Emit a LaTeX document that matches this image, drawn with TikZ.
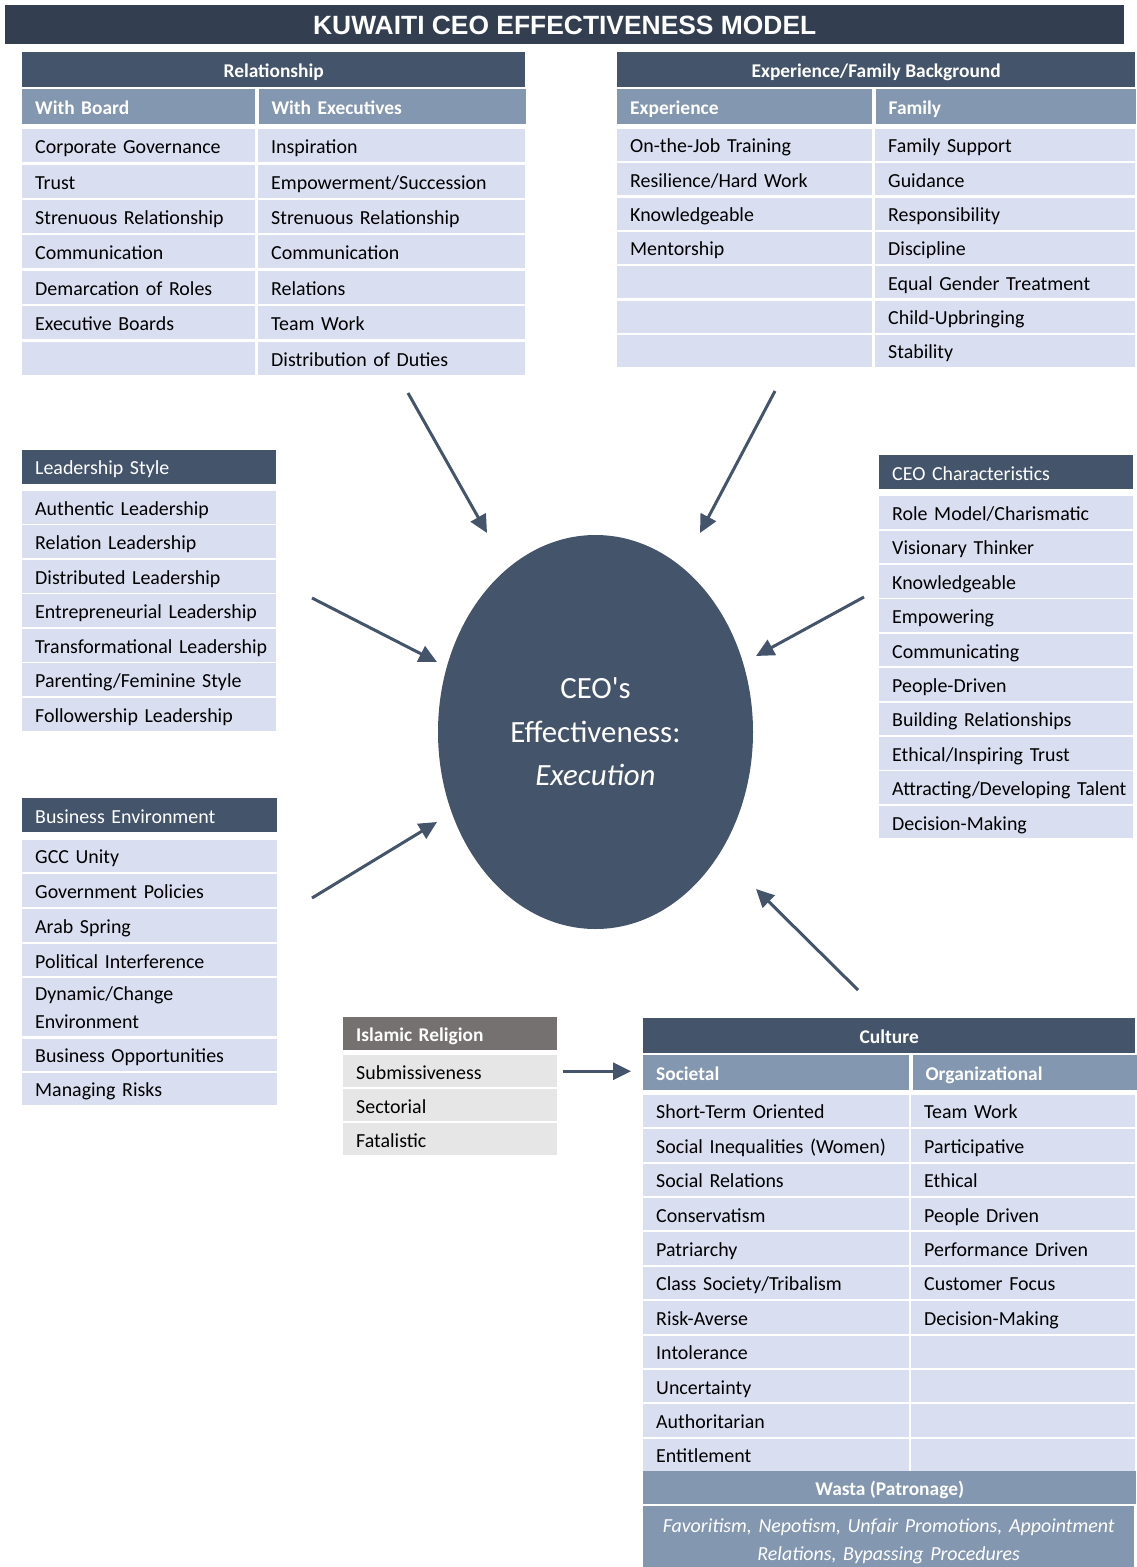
\documentclass[tikz,border=0pt]{standalone}
\usepackage{fontspec}
\setmainfont{Carlito}
\newfontfamily\titlefont{Liberation Sans}
\usetikzlibrary{arrows.meta, positioning, shapes.geometric}
\definecolor{titleblue}{HTML}{333F50}
\definecolor{ceodark}{HTML}{44546A}
\definecolor{ceomid}{HTML}{8497B0}
\definecolor{ceolight}{HTML}{D9DFF0}
\definecolor{islamgrey}{HTML}{767171}
\definecolor{islamlight}{HTML}{E7E6E6}
\tikzset{%
    cellbase/.style={%
        rectangle,
        anchor=north west,
        inner sep=0pt,
    },
    colw/.style={minimum width=#1, text width=#1},
    pad/.style={execute at begin node={\leftskip=13bp\relax}},
    oneline/.style={text height=19bp, text depth=3bp},
    titlebar/.style={%
        cellbase,
        text height=19bp, text depth=0bp,
        fill=titleblue,
        text=white,
        font=\titlefont\bfseries\fontsize{26.5}{30}\selectfont,
        minimum width=1119bp,
        minimum height=39bp,
    },
    headbar/.style={%
        cellbase, oneline,
        fill=ceodark,
        text=white,
        font=\bfseries\fontsize{19.5}{23}\selectfont,
        minimum height=35bp,
    },
    sidehead/.style={%
        cellbase, oneline, pad,
        fill=ceodark,
        text=white,
        font=\fontsize{20}{24}\selectfont,
        align=left,
        colw=254bp,
        minimum height=34bp,
    },
    subbar/.style={%
        cellbase, oneline, pad,
        fill=ceomid,
        text=white,
        font=\bfseries\fontsize{19.5}{23}\selectfont,
        align=left,
        minimum height=35bp,
    },
    cell/.style={%
        cellbase, oneline, pad,
        fill=ceolight,
        font=\fontsize{20}{24}\selectfont,
        align=left,
        minimum height=32.5bp,
    },
    islamhead/.style={%
        subbar,
        fill=islamgrey,
        colw=214bp,
        minimum height=33bp,
    },
    islamcell/.style={%
        cell,
        fill=islamlight,
        colw=214bp,
        minimum height=32bp,
    },
    ceo/.style={%
        ellipse,
        fill=ceodark,
        inner sep=0pt,
        minimum width=315bp,
        minimum height=394bp,
        text=white,
        align=center,
        font=\fontsize{31}{43.5}\selectfont,
    },
    edge/.style={%
        draw=ceodark,
        line width=3bp,
        -{Triangle[length=18bp, width=17bp]},
    },
}

\begin{document}
\begin{tikzpicture}[x=1bp, y=-1bp]
	\useasboundingbox[fill=white] (0,0) rectangle (1136,1567);

	\node [titlebar] (title) at (5,5) {KUWAITI CEO EFFECTIVENESS MODEL};

	% relationship
	\node [headbar, minimum width=503bp] (relHead) at (22,51.5) {Relationship};
	\node [subbar, colw=233bp] (relBoard) at (22,88.5) {With Board};
	\node [subbar, colw=267bp, right=3bp of relBoard] (relExec) {With Executives};
	\foreach \txt [count=\i] in {Corporate Governance, Trust, Strenuous Relationship,
		Communication, Demarcation of Roles, Executive Boards, {}}
		\node [cell, colw=233bp, minimum height=33bp] (relB\i) at (22,{129+(\i-1)*35.4}) {\txt};
	\foreach \txt [count=\i] in {Inspiration, Empowerment/Succession, Strenuous Relationship,
		Communication, Relations, Team Work, Distribution of Duties}
		\node [cell, colw=267bp, minimum height=33bp] (relE\i) at (258,{129+(\i-1)*35.4}) {\txt};

	% experience / family
	\node [headbar, minimum width=518bp] (expHead) at (617,51.5) {Experience/Family Background};
	\node [subbar, colw=255bp] (expExp) at (617,88.5) {Experience};
	\node [subbar, colw=260bp, right=3bp of expExp] (expFam) {Family};
	\foreach \txt [count=\i] in {On-the-Job Training, Resilience/Hard Work, Knowledgeable,
		Mentorship, {}, {}, {}}
		\node [cell, colw=255bp, minimum height=32bp] (expE\i) at (617,{128.7+(\i-1)*34.33}) {\txt};
	\foreach \txt [count=\i] in {Family Support, Guidance, Responsibility, Discipline,
		Equal Gender Treatment, Child-Upbringing, Stability}
		\node [cell, colw=260bp, minimum height=32bp] (expF\i) at (875,{128.7+(\i-1)*34.33}) {\txt};

	% leadership style
	\node [sidehead] (leadHead) at (22,449.5) {Leadership Style};
	\foreach \txt [count=\i] in {Authentic Leadership, Relation Leadership, Distributed Leadership,
		Entrepreneurial Leadership, Transformational Leadership, Parenting/Feminine Style,
		Followership Leadership}
		\node [cell, colw=254bp, minimum height=33bp] (lead\i) at (22,{490.5+(\i-1)*34.5}) {\txt};

	% ceo characteristics
	\node [sidehead] (charHead) at (879,455) {CEO Characteristics};
	\foreach \txt [count=\i] in {Role Model/Charismatic, Visionary Thinker, Knowledgeable,
		Empowering, Communicating, People-Driven, Building Relationships,
		Ethical/Inspiring Trust, Attracting/Developing Talent, Decision-Making}
		\node [cell, colw=254bp] (char\i) at (879,{496+(\i-1)*34.4}) {\txt};

	% business environment
	\node [sidehead, colw=255bp] (busHead) at (22,798) {Business Environment};
	\foreach \txt [count=\i] in {GCC Unity, Government Policies, Arab Spring, Political Interference}
		\node [cell, colw=255bp] (bus\i) at (22,{839.5+(\i-1)*34.7}) {\txt};
	\node [cellbase, pad, fill=ceolight, font=\fontsize{20}{28}\selectfont, align=left,
		colw=255bp, minimum height=58bp] (bus5) at (22,978) {Dynamic/Change\\Environment};
	\node [cell, colw=255bp] (bus6) at (22,1038.5) {Business Opportunities};
	\node [cell, colw=255bp] (bus7) at (22,1072.5) {Managing Risks};

	% islamic religion
	\node [islamhead] (islHead) at (343,1017) {Islamic Religion};
	\foreach \txt [count=\i] in {Submissiveness, Sectorial, Fatalistic}
		\node [islamcell] (isl\i) at (343,{1055+(\i-1)*34}) {\txt};

	% culture
	\node [headbar, minimum width=492bp] (culHead) at (643,1017.5) {Culture};
	\node [subbar, colw=266bp] (culSoc) at (643,1055) {Societal};
	\node [subbar, colw=224bp, right=3bp of culSoc] (culOrg) {Organizational};
	\foreach \txt [count=\i] in {Short-Term Oriented, Social Inequalities (Women), Social Relations,
		Conservatism, Patriarchy, Class Society/Tribalism, Risk-Averse, Intolerance,
		Uncertainty, Authoritarian, Entitlement}
		\node [cell, colw=266bp] (culS\i) at (643,{1094.5+(\i-1)*34.4}) {\txt};
	\foreach \txt [count=\i] in {Team Work, Participative, Ethical, People Driven,
		Performance Driven, Customer Focus, Decision-Making, {}, {}, {}, {}}
		\node [cell, colw=224bp] (culO\i) at (911,{1094.5+(\i-1)*34.4}) {\txt};
	\node [headbar, fill=ceomid, minimum width=493bp, minimum height=33bp] (wasta) at (643,1470.5) {Wasta (Patronage)};
	\node [cellbase, fill=ceomid, text=white, font=\itshape\fontsize{20}{29}\selectfont, align=center,
		colw=491bp, minimum height=62bp] (wastaText) at (643,1505.5)
		{\rule{0pt}{23bp}Favoritism, Nepotism, Unfair Promotions, Appointment\\Relations, Bypassing Procedures};

	% centre
	\node [ceo] (ceo) at (595.5,732) {CEO\textquotesingle s\\Effectiveness:\\\textit{Execution}};

	\coordinate (relTail) at (408,393);
	\coordinate (relTip) at (487,533);
	\coordinate (expTail) at (775,391);
	\coordinate (expTip) at (700,533);
	\coordinate (leadTail) at (312,598);
	\coordinate (leadTip) at (437,662);
	\coordinate (charTail) at (864,597);
	\coordinate (charTip) at (756,656);
	\coordinate (busTail) at (312,898);
	\coordinate (busTip) at (437,822);
	\coordinate (culTail) at (858,990);
	\coordinate (culTip) at (756,889);

	\draw[edge] (relTail) -- (relTip);
	\draw[edge] (expTail) -- (expTip);
	\draw[edge] (leadTail) -- (leadTip);
	\draw[edge] (charTail) -- (charTip);
	\draw[edge] (busTail) -- (busTip);
	\draw[edge] (culTail) -- (culTip);
	\draw[edge, shorten <=6bp, shorten >=12bp] (isl1.east) -- (isl1.east -| culSoc.west);
\end{tikzpicture}
\end{document}
